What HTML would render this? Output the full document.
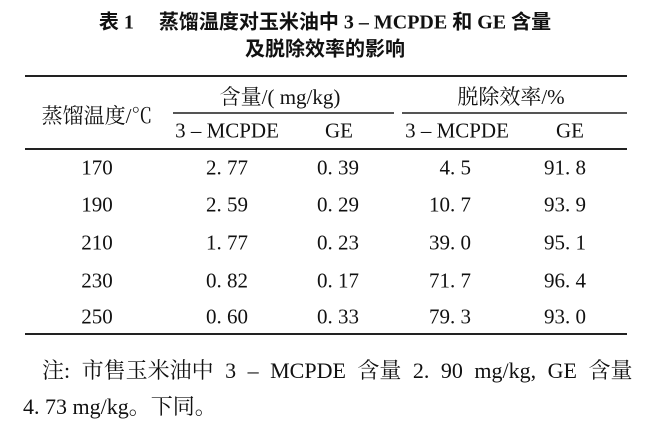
<!DOCTYPE html>
<html><head><meta charset="utf-8"><style>
body{margin:0;width:651px;height:420px;background:#fff;position:relative;overflow:hidden;font-family:"Liberation Serif","Noto Serif CJK SC",serif;color:#111}
.t{position:absolute;white-space:nowrap;transform:translate(-50%,-50%);font-size:21px}
.b{font-weight:bold;font-family:"Liberation Serif","Noto Sans CJK SC",serif;font-size:20px}
.l{position:absolute;background:#222}
.r{position:absolute;white-space:nowrap;transform:translate(-100%,-50%);font-size:21px}
</style></head><body>
<div class="t b" style="left:325px;top:20px">表 1　 蒸馏温度对玉米油中 3 – MCPDE 和 GE 含量</div>
<div class="t b" style="left:325px;top:47px">及脱除效率的影响</div>
<div class="l" style="left:25px;top:75px;width:602px;height:2px"></div>
<div class="l" style="left:173px;top:112px;width:221px;height:1.5px;background:#555"></div>
<div class="l" style="left:402px;top:112px;width:225px;height:1.5px;background:#555"></div>
<div class="l" style="left:25px;top:148px;width:602px;height:2px"></div>
<div class="l" style="left:25px;top:333px;width:602px;height:2px"></div>
<div class="t" style="left:97px;top:115px">蒸馏温度/℃</div>
<div class="t" style="left:280px;top:96px">含量/( mg/kg)</div>
<div class="t" style="left:511px;top:96px">脱除效率/%</div>
<div class="t" style="left:227px;top:131px">3 – MCPDE</div>
<div class="t" style="left:339px;top:131px">GE</div>
<div class="t" style="left:457px;top:131px">3 – MCPDE</div>
<div class="t" style="left:570px;top:131px">GE</div>

<div class="t" style="left:97px;top:168px">170</div><div class="t" style="left:227px;top:168px">2. 77</div><div class="t" style="left:338px;top:168px">0. 39</div><div class="r" style="left:471px;top:168px">4. 5</div><div class="t" style="left:565px;top:168px">91. 8</div>
<div class="t" style="left:97px;top:205px">190</div><div class="t" style="left:227px;top:205px">2. 59</div><div class="t" style="left:338px;top:205px">0. 29</div><div class="r" style="left:471px;top:205px">10. 7</div><div class="t" style="left:565px;top:205px">93. 9</div>
<div class="t" style="left:97px;top:243px">210</div><div class="t" style="left:227px;top:243px">1. 77</div><div class="t" style="left:338px;top:243px">0. 23</div><div class="r" style="left:471px;top:243px">39. 0</div><div class="t" style="left:565px;top:243px">95. 1</div>
<div class="t" style="left:97px;top:281px">230</div><div class="t" style="left:227px;top:281px">0. 82</div><div class="t" style="left:338px;top:281px">0. 17</div><div class="r" style="left:471px;top:281px">71. 7</div><div class="t" style="left:565px;top:281px">96. 4</div>
<div class="t" style="left:97px;top:317px">250</div><div class="t" style="left:227px;top:317px">0. 60</div><div class="t" style="left:338px;top:317px">0. 33</div><div class="r" style="left:471px;top:317px">79. 3</div><div class="t" style="left:565px;top:317px">93. 0</div>

<div style="position:absolute;left:42px;top:354px;font-size:22px;white-space:nowrap;word-spacing:6px">注: 市售玉米油中 3 – MCPDE 含量 2. 90 mg/kg, GE 含量</div>
<div style="position:absolute;left:23px;top:390px;font-size:22px;white-space:nowrap">4. 73 mg/kg。下同。</div>
</body></html>
